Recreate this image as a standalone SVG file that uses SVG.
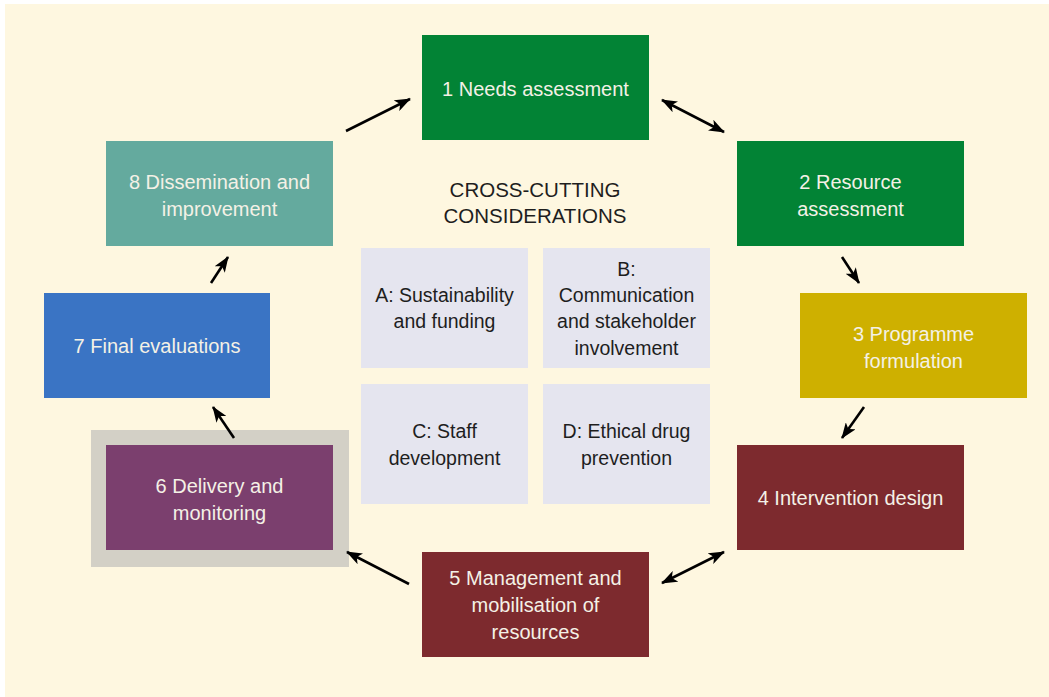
<svg xmlns="http://www.w3.org/2000/svg" width="1049" height="697" viewBox="0 0 1049 697">
<style>
.lbl{font-family:"Liberation Sans",Arial,sans-serif;font-size:20px;fill:#F4F1E6;text-anchor:middle}
.ctr{font-family:"Liberation Sans",Arial,sans-serif;font-size:19.5px;fill:#1E1E1E;text-anchor:middle}
.ttl{font-family:"Liberation Sans",Arial,sans-serif;font-size:20.5px;fill:#1E1E1E;text-anchor:middle}
.cbox{fill:#E5E5EF}
.arr{stroke:#000;stroke-width:2.6;fill:none;marker-end:url(#ah)}
.arr2{stroke:#000;stroke-width:2.6;fill:none;marker-end:url(#ah);marker-start:url(#ahs)}
</style>
<defs>
<marker id="ah" viewBox="0 0 16 12" refX="15" refY="6" markerWidth="16" markerHeight="12" markerUnits="userSpaceOnUse" orient="auto">
<path d="M0,0 L16,6 L0,12 L4,6 z" fill="#000"/>
</marker>
<marker id="ahs" viewBox="0 0 16 12" refX="1" refY="6" markerWidth="16" markerHeight="12" markerUnits="userSpaceOnUse" orient="auto">
<path d="M16,0 L0,6 L16,12 L12,6 z" fill="#000"/>
</marker>
</defs>
<rect x="0" y="0" width="1049" height="697" fill="#FFFFFF"/>
<rect x="5" y="4" width="1044" height="693" fill="#FEF7E0"/>

<g id="title">
<text class="ttl" x="535" y="197">CROSS-CUTTING</text>
<text class="ttl" x="535" y="223">CONSIDERATIONS</text>
</g>
<g id="boxA"><rect class="cbox" x="361" y="248" width="167" height="120"/>
<text class="ctr" x="444.5" y="302">A: Sustainability</text><text class="ctr" x="444.5" y="328">and funding</text></g>
<g id="boxB"><rect class="cbox" x="543" y="248" width="167" height="120"/>
<text class="ctr" x="626.5" y="276">B:</text><text class="ctr" x="626.5" y="302">Communication</text><text class="ctr" x="626.5" y="328">and stakeholder</text><text class="ctr" x="626.5" y="355">involvement</text></g>
<g id="boxC"><rect class="cbox" x="361" y="384" width="167" height="120"/>
<text class="ctr" x="444.5" y="438">C: Staff</text><text class="ctr" x="444.5" y="465">development</text></g>
<g id="boxD"><rect class="cbox" x="543" y="384" width="167" height="120"/>
<text class="ctr" x="626.5" y="438">D: Ethical drug</text><text class="ctr" x="626.5" y="465">prevention</text></g>

<g id="n1"><rect x="422" y="35" width="227" height="105" fill="#028335"/>
<text class="lbl" x="535.5" y="96">1 Needs assessment</text></g>
<g id="n2"><rect x="737" y="141" width="227" height="105" fill="#028335"/>
<text class="lbl" x="850.5" y="189">2 Resource</text><text class="lbl" x="850.5" y="216">assessment</text></g>
<g id="n3"><rect x="800" y="293" width="227" height="105" fill="#CEB000"/>
<text class="lbl" x="913.5" y="341">3 Programme</text><text class="lbl" x="913.5" y="368">formulation</text></g>
<g id="n4"><rect x="737" y="445" width="227" height="105" fill="#7D2A2E"/>
<text class="lbl" x="850.5" y="505">4 Intervention design</text></g>
<g id="n5"><rect x="422" y="552" width="227" height="105" fill="#7D2A2E"/>
<text class="lbl" x="535.5" y="585">5 Management and</text><text class="lbl" x="535.5" y="612">mobilisation of</text><text class="lbl" x="535.5" y="639">resources</text></g>
<g id="n6"><rect x="91" y="430" width="258" height="137" fill="#D3D0C6"/><rect x="106" y="445" width="227" height="105" fill="#7B3F6E"/>
<text class="lbl" x="219.5" y="493">6 Delivery and</text><text class="lbl" x="219.5" y="520">monitoring</text></g>
<g id="n7"><rect x="44" y="293" width="226" height="105" fill="#3A74C4"/>
<text class="lbl" x="157" y="353">7 Final evaluations</text></g>
<g id="n8"><rect x="106" y="141" width="227" height="105" fill="#64AA9E"/>
<text class="lbl" x="219.5" y="189">8 Dissemination and</text><text class="lbl" x="219.5" y="216">improvement</text></g>

<g id="connectors">
<line class="arr" x1="346" y1="131" x2="410" y2="99"/>
<line class="arr2" x1="662" y1="100" x2="724" y2="132"/>
<line class="arr" x1="842" y1="257" x2="859" y2="283"/>
<line class="arr" x1="864" y1="407" x2="842" y2="438"/>
<line class="arr2" x1="724" y1="552" x2="662" y2="583"/>
<line class="arr" x1="409" y1="584" x2="347" y2="552"/>
<line class="arr" x1="234" y1="438" x2="213" y2="407"/>
<line class="arr" x1="211" y1="283" x2="228" y2="257"/>
</g>
</svg>
